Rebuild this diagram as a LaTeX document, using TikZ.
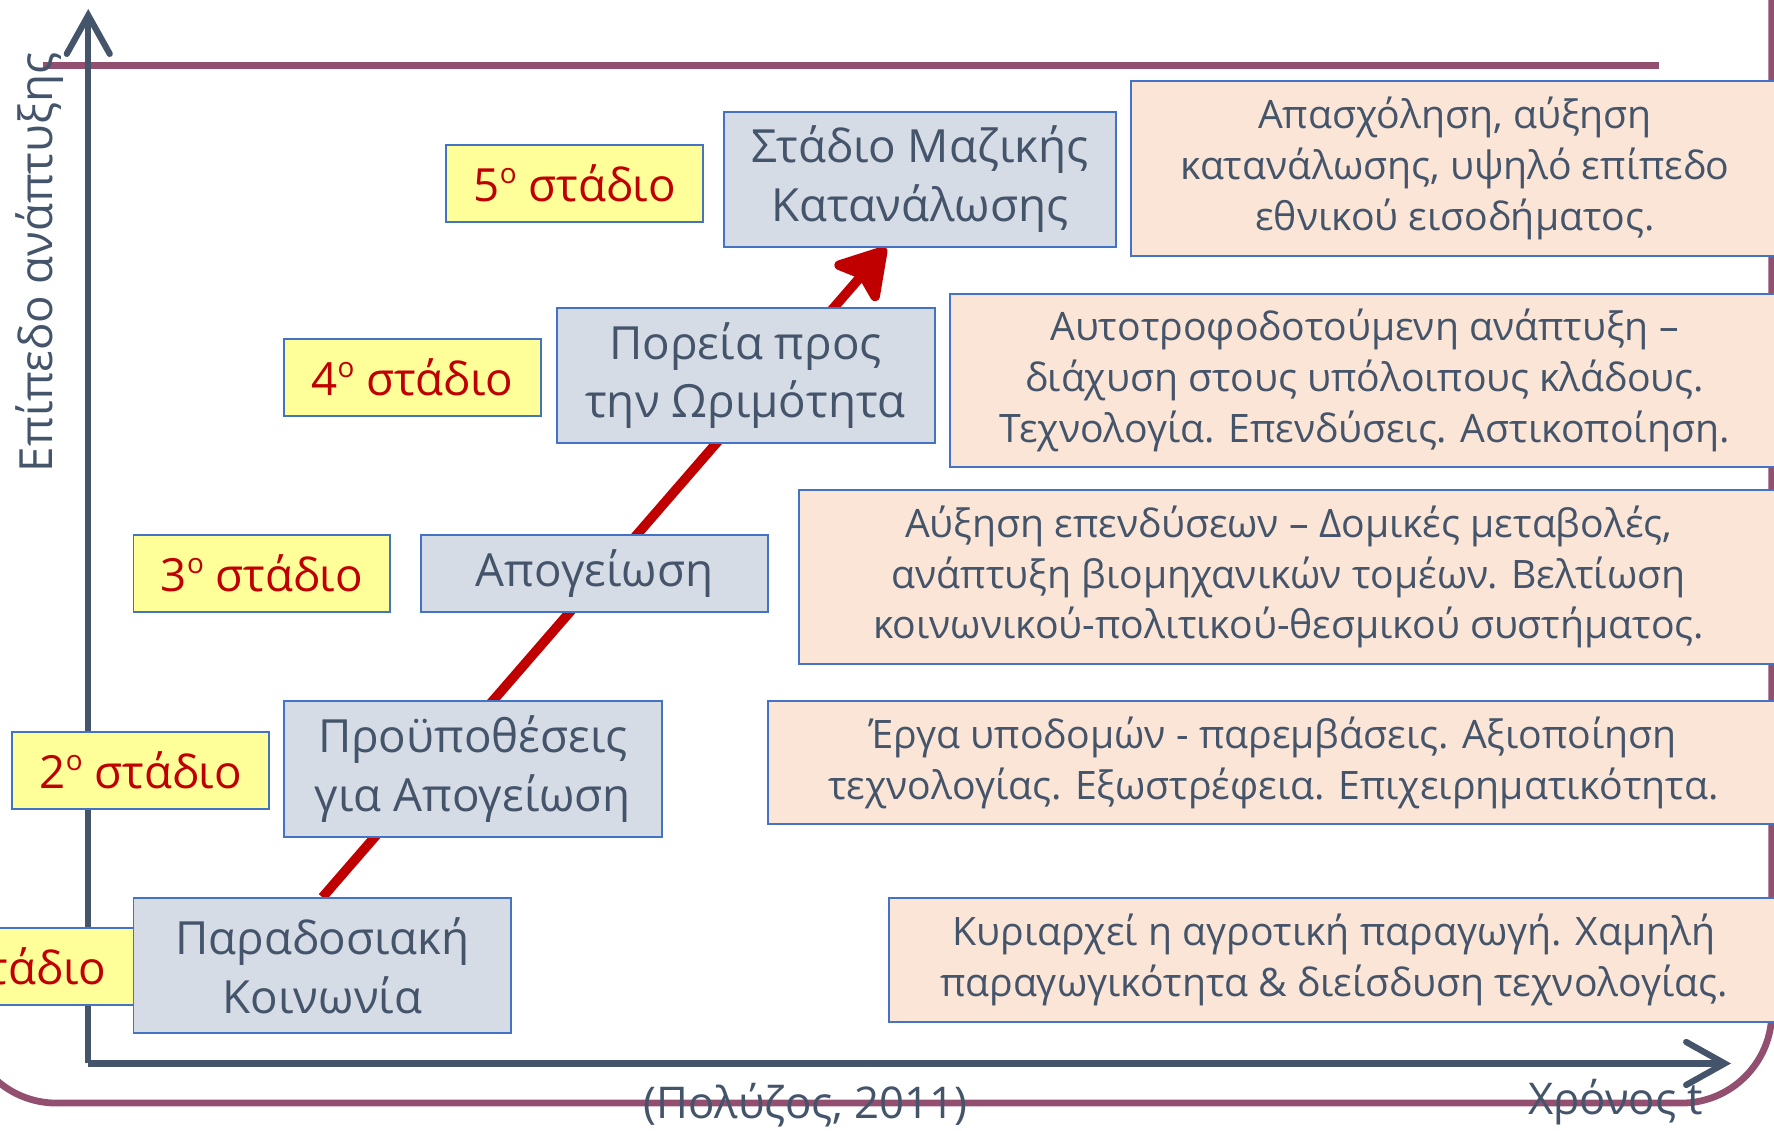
\documentclass[tikz,border=0pt]{standalone}
\usepackage{fontspec}
\setmainfont{Open Sans}
\definecolor{slatetext}{RGB}{68, 84, 106}
\definecolor{framepurple}{RGB}{147, 79, 112}
\definecolor{arrowred}{RGB}{192, 0, 0}
\definecolor{stageyellow}{RGB}{255, 255, 153}
\definecolor{phaseblue}{RGB}{214, 220, 229}
\definecolor{notepink}{RGB}{251, 229, 214}
\definecolor{boxborder}{RGB}{68, 114, 196}
\usetikzlibrary{arrows.meta,positioning,backgrounds}
\newcommand{\stagenum}[1]{#1\raisebox{0.75ex}{\fontsize{7}{8}\selectfont ο}}

\begin{document}
\begin{tikzpicture}[x=0.1mm, y=-0.1mm,
    stagebox/.style={draw=boxborder, line width=0.5pt, fill=stageyellow, text=arrowred,
        font=\fontsize{11.5}{14}\selectfont, minimum width=22.7mm, minimum height=6.8mm, inner sep=0pt},
    phasebox/.style={draw=boxborder, line width=0.5pt, fill=phaseblue, text=slatetext, align=center,
        font=\fontsize{11.5}{14.8}\selectfont, inner sep=0pt},
    notebox/.style={draw=boxborder, line width=0.5pt, fill=notepink, text=slatetext, align=center,
        font=\fontsize{9.85}{12.8}\selectfont, inner sep=0pt},
    axisline/.style={slatetext, line width=0.55mm, -{Straight Barb[length=3.4mm, width=3.8mm, line cap=round]}},
    frameline/.style={framepurple, line width=0.6mm}]
    \useasboundingbox (0,0) rectangle (1568,999);

    % stage labels
    \node[stagebox] (s5) at (508,162.5) {\stagenum{5} στάδιο};
    \node[stagebox] (s4) at (364.5,333.5) {\stagenum{4} στάδιο};
    \node[stagebox] (s3) at (231.5,507) {\stagenum{3} στάδιο};
    \node[stagebox] (s2) at (124.5,681) {\stagenum{2} στάδιο};
    \node[stagebox] (s1) at (4.5,854) {\stagenum{1} στάδιο};

    % phases
    \node[phasebox, minimum width=34.6mm, minimum height=11.9mm] (mass) at (813,158.5) {Στάδιο Μαζικής\\Κατανάλωσης};
    \node[phasebox, minimum width=33.4mm, minimum height=12mm] (mature) at (659,332) {Πορεία προς\\την Ωριμότητα};
    \node[phasebox, minimum width=30.7mm, minimum height=6.8mm] (takeoff) at (525.5,507) {Απογείωση};
    \node[phasebox, minimum width=33.4mm, minimum height=12mm] (precond) at (418,680) {Προϋποθέσεις\\για Απογείωση};
    \node[phasebox, minimum width=33.4mm, minimum height=11.9mm] (trad) at (285,853.5) {Παραδοσιακή\\Κοινωνία};

    % descriptions
    \node[notebox, minimum width=57.2mm, minimum height=15.4mm] (n5) at (1286,149)
        {Απασχόληση, αύξηση\\κατανάλωσης, υψηλό επίπεδο\\εθνικού εισοδήματος.};
    \node[notebox, minimum width=73.2mm, minimum height=15.3mm] (n4) at (1206,336.5)
        {Αυτοτροφοδοτούμενη ανάπτυξη –\\διάχυση στους υπόλοιπους κλάδους.\\Τεχνολογία. Επενδύσεις. Αστικοποίηση.};
    \node[notebox, minimum width=86.6mm, minimum height=15.4mm] (n3) at (1139,510)
        {Αύξηση επενδύσεων – Δομικές μεταβολές,\\ανάπτυξη βιομηχανικών τομέων. Βελτίωση\\κοινωνικού-πολιτικού-θεσμικού συστήματος.};
    \node[notebox, minimum width=89.3mm, minimum height=10.8mm] (n2) at (1125.5,674)
        {Έργα υποδομών - παρεμβάσεις. Αξιοποίηση\\τεχνολογίας. Εξωστρέφεια. Επιχειρηματικότητα.};
    \node[notebox, minimum width=78.6mm, minimum height=10.9mm] (n1) at (1179,848.5)
        {Κυριαρχεί η αγροτική παραγωγή. Χαμηλή\\παραγωγικότητα \& διείσδυση τεχνολογίας.};

    % axes and labels
    \coordinate (origin) at (78,940);
    \coordinate (ytip) at (78,8);
    \coordinate (xtip) at (1530,940);
    \node[text=slatetext, rotate=90, font=\fontsize{11.5}{14}\selectfont] (ylabel) at (35,232) {Επίπεδο ανάπτυξης};
    \node[text=slatetext, font=\fontsize{11}{14}\selectfont] (xlabel) at (1428,974) {Χρόνος t};
    \node[text=slatetext, font=\fontsize{11}{14}\selectfont] (source) at (712,977) {(Πολύζος, 2011)};

    \begin{pgfonlayer}{background}
        \draw[frameline] (38,58) -- (1466,58);
        \draw[frameline, rounded corners=8mm] (1566,-20) -- (1566,975) -- (-30,975) -- (-30,850);
        \draw[axisline] (origin) -- (ytip);
        \draw[axisline] (origin) -- (xtip);
        \draw[arrowred, line width=0.85mm, -{Stealth[length=5mm, width=6mm, inset=1mm, round]}]
            (trad.north) -- ([xshift=-3mm]mass.south);
    \end{pgfonlayer}
\end{tikzpicture}
\end{document}
